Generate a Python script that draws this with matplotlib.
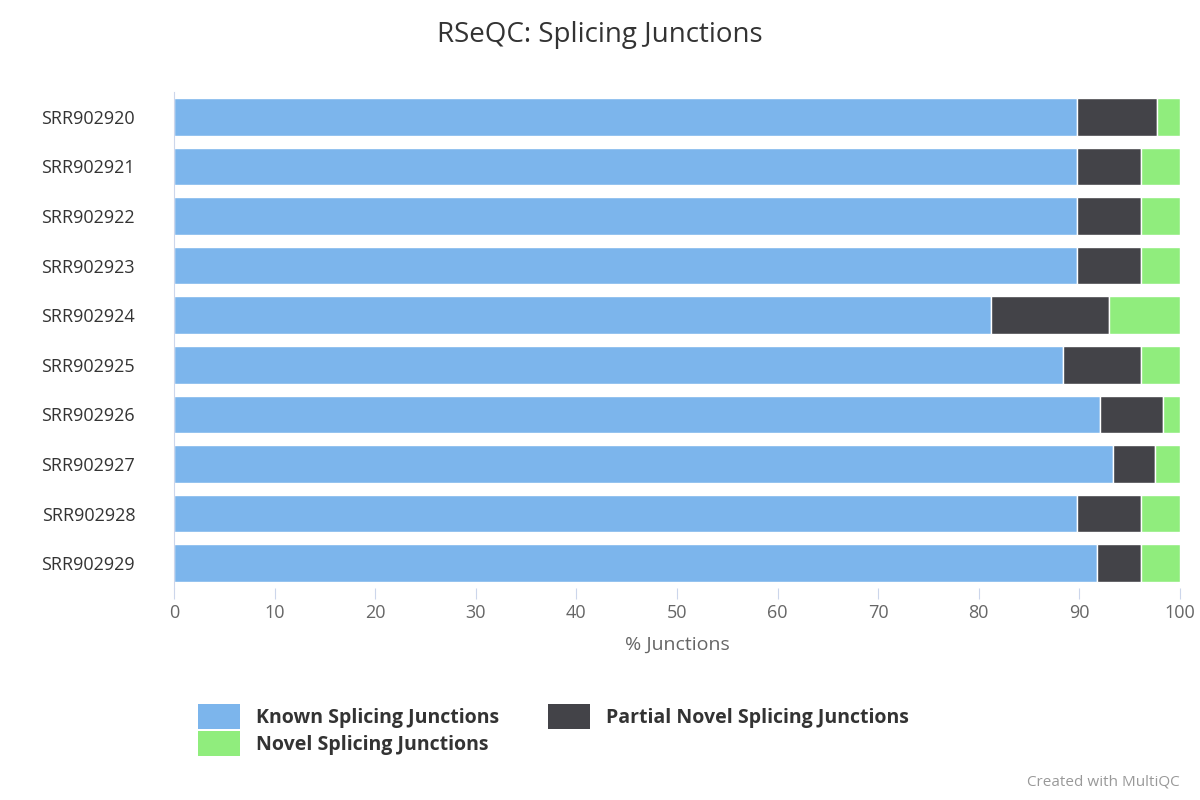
import matplotlib
matplotlib.use("Agg")
import matplotlib.pyplot as plt
from matplotlib.patches import Patch

samples = ["SRR902920","SRR902921","SRR902922","SRR902923","SRR902924",
           "SRR902925","SRR902926","SRR902927","SRR902928","SRR902929"]
known   = [89.8, 89.8, 89.8, 89.8, 81.2, 88.4, 92.0, 93.3, 89.8, 91.7]
partial = [7.9, 6.3, 6.3, 6.3, 11.7, 7.7, 6.3, 4.2, 6.3, 4.4]
novel   = [100 - k - p for k, p in zip(known, partial)]
series_names = ["Known Splicing Junctions", "Partial Novel Splicing Junctions", "Novel Splicing Junctions"]
colors = ["#7cb5ec", "#434348", "#90ed7d"]

plt.rcParams['font.family'] = ['Open Sans', 'DejaVu Sans']
fig = plt.figure(figsize=(12, 8), dpi=100)
ax = fig.add_axes([174/1200, 1-588/800, (1180-174)/1200, (588-92)/800])
y = list(range(len(samples)))
left = [0]*len(samples)
for vals, c in zip([known, partial, novel], colors):
    ax.barh(y, vals, left=left, color=c, height=0.76, edgecolor="white", linewidth=1)
    left = [l + v for l, v in zip(left, vals)]
ax.set_ylim(len(samples)-0.5, -0.5)
ax.set_xlim(0, 100)
ax.set_yticks(y)
ax.set_yticklabels(samples, fontsize=13, color="#333333")
ax.set_xticks(range(0, 101, 10))
ax.tick_params(axis='x', labelsize=13, colors="#666666", length=8, color="#ccd6eb")
ax.tick_params(axis='y', length=0, pad=28)
for s in ["top", "right", "bottom"]:
    ax.spines[s].set_visible(False)
ax.spines["left"].set_color("#ccd6eb")
ax.set_xlabel("% Junctions", fontsize=14, color="#666666", labelpad=10)
fig.text(0.5, 1-35/800, "RSeQC: Splicing Junctions", ha="center", va="center", fontsize=20, color="#333333")
handles = [Patch(facecolor=c, label=n) for c, n in zip(colors, series_names)]
leg = fig.legend(handles=[handles[0], handles[2], handles[1]], ncol=2, loc="center left",
                 bbox_to_anchor=(180/1200, 1-730/800), frameon=False,
                 prop={'size': 14, 'weight': 'bold'}, handlelength=2.2, handleheight=1.6,
                 columnspacing=2.5, labelspacing=0.1)
for t in leg.get_texts():
    t.set_color("#333333")
fig.text(1180/1200, 1-782/800, "Created with MultiQC", ha="right", va="center", fontsize=11, color="#999999")
fig.savefig("out.png")
